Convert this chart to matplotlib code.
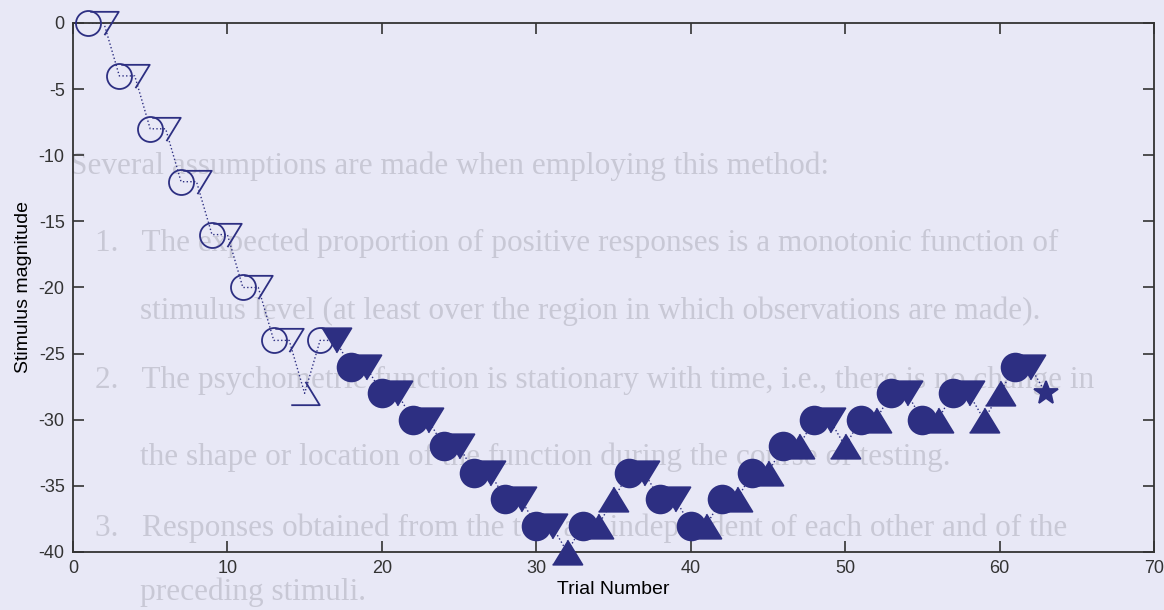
import numpy as np
import matplotlib
matplotlib.use("Agg")
import matplotlib.pyplot as plt

plt.rcParams["axes.unicode_minus"] = False
plt.rcParams["font.family"] = ["Liberation Sans", "DejaVu Sans"]

# staircase track, one point per trial
trials = np.arange(1, 64)
levels = [0, 0, -4, -4, -8, -8, -12, -12, -16, -16, -20, -20, -24, -24, -28, -24,
          -24, -26, -26, -28, -28, -30, -30, -32, -32, -34, -34, -36, -36, -38, -38,
          -40, -38, -38, -36, -34, -34, -36, -36, -38, -38, -36, -36, -34, -34, -32,
          -32, -30, -30, -32, -30, -30, -28, -28, -30, -30, -28, -28, -30, -28, -26,
          -26, -28]
# o = response, v = step down, ^ = step up, * = final
kinds = ("ovovovovovovov^o"
         "vovovovovovovov" "^o^^" "ovovo" "^o^o^o^o" "v^" "o^o" "vo^ov" "^^" "ov*")
n_open = 16  # first trials drawn with open markers

xticks = [0, 10, 20, 30, 40, 50, 60, 70]
yticks = [0, -5, -10, -15, -20, -25, -30, -35, -40]

# text from the other side of the scanned page
bleed_lines = [
    (0.060, 0.727, "Several assumptions are made when employing this method:"),
    (0.082, 0.602, "1.   The expected proportion of positive responses is a monotonic function of"),
    (0.120, 0.489, "stimulus level (at least over the region in which observations are made)."),
    (0.082, 0.377, "2.   The psychometric function is stationary with time, i.e., there is no change in"),
    (0.120, 0.251, "the shape or location of the function during the course of testing."),
    (0.082, 0.134, "3.   Responses obtained from the test are independent of each other and of the"),
    (0.120, 0.029, "preceding stimuli."),
]

navy = "#2d2f82"
bg = "#e8e8f6"

fig = plt.figure(figsize=(11.64, 6.10), dpi=100, facecolor=bg)
for x, y, s in bleed_lines:
    fig.text(x, y, s, fontsize=22.5, family="Liberation Serif", color="#c8c8d5",
             va="center", ha="left", zorder=0)

ax = fig.add_axes([0.0627, 0.0951, 0.9287, 0.8672])
ax.set_zorder(1)
ax.patch.set_visible(False)

levels = np.array(levels)
ax.plot(trials, levels, ls=":", color=navy, lw=1.0, zorder=2)

tri_down = [(-1, 0.82), (1, 0.82), (0, -0.82)]
tri_up = [(-1, -0.82), (1, -0.82), (0, 0.82)]
# (marker, size open, size filled)
shapes = {"o": ("o", 18, 20), "v": (tri_down, 20.5, 21.5),
          "^": (tri_up, 20.5, 21.5), "*": ("*", 18, 18)}
kinds_arr = np.array(list(kinds))
is_open = trials <= n_open
for k, (m, ms_open, ms_fill) in shapes.items():
    for op in (True, False):
        sel = (kinds_arr == k) & (is_open == op)
        if not sel.any():
            continue
        ax.plot(trials[sel], levels[sel], ls="none", marker=m,
                markersize=ms_open if op else ms_fill,
                markerfacecolor="none" if op else navy, markeredgecolor=navy,
                markeredgewidth=1.3, clip_on=False, zorder=3)

ax.set_xlim(0, 70)
ax.set_ylim(-40, 0)
ax.set_xticks(xticks)
ax.set_yticks(yticks)
ax.tick_params(direction="in", length=8, width=1.2, colors="#333333",
               labelsize=13, top=True, right=True, pad=6)
for s in ax.spines.values():
    s.set_color("#333333")
    s.set_linewidth(1.3)
ax.set_xlabel("Trial Number", fontsize=14, labelpad=3)
ax.set_ylabel("Stimulus magnitude", fontsize=14, labelpad=5)

fig.savefig("out.png", dpi=100, facecolor=bg)
